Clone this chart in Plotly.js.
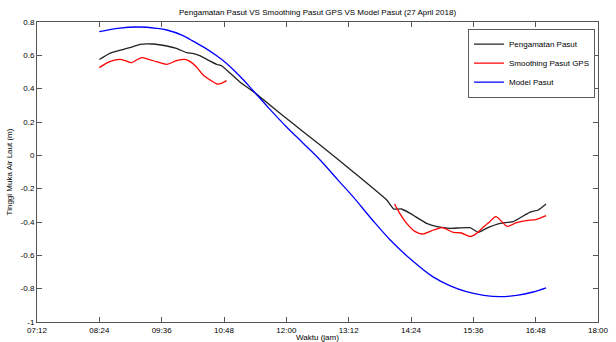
<!DOCTYPE html>
<html>
<head>
<meta charset="utf-8">
<script src="https://cdn.plot.ly/plotly-3.0.1.min.js"></script>
<style>html,body{margin:0;padding:0;background:#fff;}#chart{width:616px;height:342px;}</style>
</head>
<body>
<div id="chart"></div>
<script>
const day = '2018-04-27 ';

const obsTimes = ['08:24','08:36','08:52','09:03','09:11','09:26','09:42','09:53','10:05','10:12','10:20','10:28','10:40','10:45','10:51','11:06','11:22','12:00','12:39','13:17','13:56','14:04','14:13','14:23','14:42','14:54','15:09','15:32','15:42','15:51','16:07','16:22','16:41','16:51','17:00'];
const obsValues = [0.575,0.612,0.636,0.652,0.666,0.668,0.656,0.642,0.616,0.612,0.598,0.576,0.545,0.538,0.512,0.442,0.382,0.222,0.062,-0.098,-0.268,-0.322,-0.322,-0.348,-0.408,-0.428,-0.438,-0.434,-0.462,-0.438,-0.408,-0.398,-0.342,-0.328,-0.292];

const gpsTimes = ['08:24','08:36','08:48','08:54','09:01','09:07','09:13','09:21','09:30','09:42','09:53','10:03','10:09','10:16','10:24','10:32','10:40','10:45','10:51','12:30','14:05','14:11','14:19','14:29','14:37','14:50','15:00','15:13','15:22','15:33','15:40','15:47','15:55','16:02','16:09','16:15','16:26','16:37','16:49','17:00'];
const gpsValues = [0.526,0.562,0.576,0.568,0.556,0.572,0.586,0.576,0.562,0.546,0.568,0.576,0.562,0.532,0.482,0.452,0.428,0.432,0.448,null,-0.292,-0.348,-0.408,-0.458,-0.472,-0.448,-0.434,-0.462,-0.466,-0.487,-0.468,-0.433,-0.398,-0.368,-0.398,-0.426,-0.404,-0.392,-0.384,-0.362];

const modelTimes = ['08:24','08:45','09:10','09:30','09:42','10:00','10:09','10:25','10:40','10:50','11:00','11:10','11:21','11:40','12:00','12:20','12:39','13:00','13:17','13:39','14:00','14:25','14:49','15:10','15:28','15:48','16:07','16:26','16:45','17:00'];
const modelValues = [0.742,0.762,0.770,0.762,0.752,0.720,0.695,0.648,0.596,0.556,0.508,0.455,0.392,0.282,0.172,0.070,-0.028,-0.150,-0.248,-0.385,-0.508,-0.630,-0.728,-0.785,-0.818,-0.840,-0.848,-0.840,-0.820,-0.795];

const xTickLabels = ['07:12','08:24','09:36','10:48','12:00','13:12','14:24','15:36','16:48','18:00'];
const yTickValues = [-1,-0.8,-0.6,-0.4,-0.2,0,0.2,0.4,0.6,0.8];
const yTickLabels = ['-1','-0.8','-0.6','-0.4','-0.2','0','0.2','0.4','0.6','0.8'];

const seriesNames = ['Pengamatan Pasut','Smoothing Pasut GPS','Model Pasut'];

const toX = a => a.map(t => day + t);
const font = 'Liberation Sans, Arial, sans-serif';

const traces = [
  {x: toX(obsTimes), y: obsValues, name: seriesNames[0], type: 'scatter', mode: 'lines',
   line: {color: '#222222', width: 1.3, shape: 'spline', smoothing: 0.4}},
  {x: toX(gpsTimes), y: gpsValues, name: seriesNames[1], type: 'scatter', mode: 'lines', connectgaps: false,
   line: {color: '#ff0000', width: 1.3, shape: 'spline', smoothing: 0.8}},
  {x: toX(modelTimes), y: modelValues, name: seriesNames[2], type: 'scatter', mode: 'lines',
   line: {color: '#0000ff', width: 1.3, shape: 'spline', smoothing: 1}}
];

const layout = {
  width: 616, height: 342,
  margin: {l: 37, r: 18, t: 22, b: 20, pad: 0},
  paper_bgcolor: '#ffffff', plot_bgcolor: '#ffffff',
  font: {family: font, size: 8, color: '#000000'},
  title: {text: 'Pengamatan Pasut VS Smoothing Pasut GPS VS Model Pasut (27 April 2018)',
          font: {family: font, size: 8, color: '#000000'}, x: 0.5155, xanchor: 'center', y: 0.965, yanchor: 'middle'},
  showlegend: true,
  legend: {x: 0.995, xanchor: 'right', y: 0.977, yanchor: 'top', bgcolor: '#ffffff',
           bordercolor: '#333333', borderwidth: 0.8, font: {family: font, size: 8, color: '#000000'},
           tracegroupgap: 0, itemwidth: 30},
  xaxis: {type: 'date', range: [day + '07:12', day + '18:00'],
          tickvals: toX(xTickLabels), ticktext: xTickLabels,
          ticks: 'inside', ticklen: 5, tickcolor: '#555555', tickwidth: 1,
          showline: true, linecolor: '#555555', linewidth: 1, mirror: 'ticks',
          showgrid: false, zeroline: false,
          tickfont: {family: font, size: 8, color: '#000000'},
          title: {text: 'Waktu (jam)', font: {family: font, size: 8, color: '#000000'}, standoff: 1},
          automargin: false},
  yaxis: {range: [-1, 0.8], tickvals: yTickValues, ticktext: yTickLabels,
          ticks: 'inside', ticklen: 5, tickcolor: '#555555', tickwidth: 1,
          showline: true, linecolor: '#555555', linewidth: 1, mirror: 'ticks',
          showgrid: false, zeroline: false,
          tickfont: {family: font, size: 8, color: '#000000'},
          title: {text: 'Tinggi Muka Air Laut (m)', font: {family: font, size: 8, color: '#000000'}, standoff: 6},
          automargin: false}
};

Plotly.newPlot('chart', traces, layout, {displayModeBar: false, staticPlot: true});
</script>
</body>
</html>
